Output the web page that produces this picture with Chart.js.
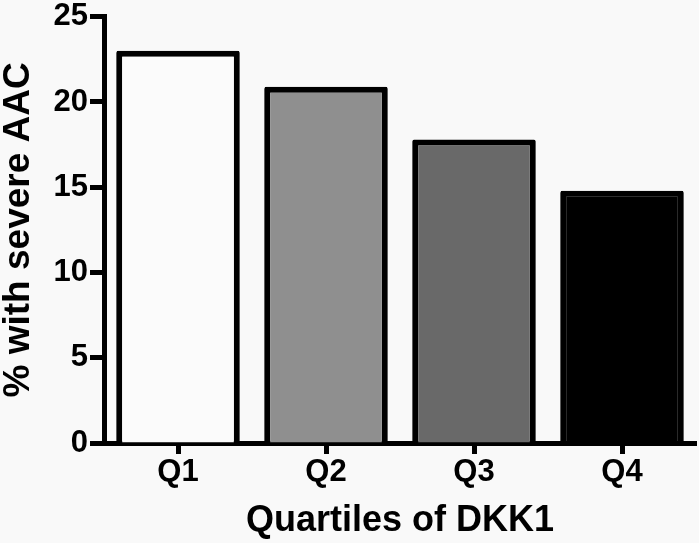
<!DOCTYPE html>
<html>
<head>
<meta charset="utf-8">
<script src="https://cdn.jsdelivr.net/npm/chart.js@4/dist/chart.umd.min.js"></script>
<style>
  html, body { margin: 0; padding: 0; background: #f9f9f9; }
  #wrap { width: 699px; height: 543px; }
</style>
</head>
<body>
<div id="wrap"><canvas id="c" width="699" height="543"></canvas></div>
<script>
const categories = ["Q1", "Q2", "Q3", "Q4"];
const severeAAC = [23.0, 20.9, 17.8, 14.8];
const barColors = ["#fbfbfb", "#8f8f8f", "#696969", "#000000"];
const yTicks = [0, 5, 10, 15, 20, 25];
const xTitle = "Quartiles of DKK1";
const yTitle = "% with severe AAC";

const FONT = "'Liberation Sans', Arial, sans-serif";
Chart.defaults.font.family = FONT;
Chart.defaults.color = "#000";

const tickFont = { family: FONT, size: 31, weight: "bold", lineHeight: 0.95 };

new Chart(document.getElementById("c"), {
  type: "bar",
  data: {
    labels: categories,
    datasets: [{
      data: severeAAC,
      backgroundColor: barColors,
      borderColor: "#000",
      borderWidth: 6,
      borderRadius: 2,
      barPercentage: 0.835,
      categoryPercentage: 1.0
    }]
  },
  options: {
    responsive: false,
    animation: false,
    devicePixelRatio: 1,
    layout: { padding: { top: 15, right: 3, bottom: 0, left: 0 } },
    plugins: { legend: { display: false }, tooltip: { enabled: false } },
    scales: {
      x: {
        offset: true,
        grid: {
          display: true, drawOnChartArea: false, drawTicks: true,
          offset: false, tickLength: 11, tickWidth: 5, tickColor: "#000"
        },
        border: { display: true, width: 5, color: "#000" },
        ticks: {
          color: "#000", padding: 4,
          font: tickFont
        },
        title: {
          display: true, text: xTitle, color: "#000",
          font: { family: FONT, size: 36, weight: "bold", lineHeight: 1 },
          padding: { top: 0, bottom: 4 }
        },
        afterFit: (s) => { s.height = 100; }
      },
      y: {
        min: 0, max: 25,
        afterBuildTicks: (s) => { s.ticks = yTicks.map(v => ({ value: v })); },
        grid: {
          display: true, drawOnChartArea: false, drawTicks: true,
          tickLength: 14, tickWidth: 5, tickColor: "#000"
        },
        border: { display: true, width: 5, color: "#000" },
        ticks: {
          color: "#000", padding: 2,
          font: tickFont
        },
        title: {
          display: true, text: yTitle, color: "#000",
          font: { family: FONT, size: 37, weight: "bold", lineHeight: 1 },
          padding: { top: 0, bottom: 0 }
        },
        afterFit: (s) => { s.width = 104; }
      }
    }
  },
  plugins: [{
    id: "bg",
    beforeDraw: (chart) => {
      const ctx = chart.ctx;
      ctx.save();
      ctx.fillStyle = "#f9f9f9";
      ctx.fillRect(0, 0, chart.width, chart.height);
      ctx.restore();
    }
  }]
});
</script>
</body>
</html>
